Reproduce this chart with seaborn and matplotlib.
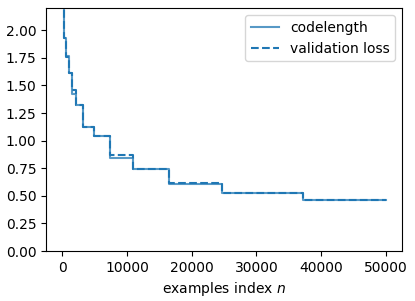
import numpy as np
import pandas as pd
import matplotlib
matplotlib.use('Agg')
import matplotlib.pyplot as plt
import seaborn as sns

# step boundaries (examples index n) and levels
n_index = [190, 286, 644, 966, 1449, 2173, 3259, 4889, 7333, 11000, 16500, 24750, 37125, 50000]
codelength = [2.9, 1.925, 1.77, 1.615, 1.42, 1.325, 1.12, 1.04, 0.843, 0.74, 0.61, 0.53, 0.46, 0.46]
val_loss = [2.9, 1.93, 1.76, 1.61, 1.455, 1.32, 1.12, 1.04, 0.873, 0.74, 0.615, 0.53, 0.46, 0.46]

df = pd.DataFrame({'n': n_index, 'codelength': codelength, 'validation loss': val_loss})

fig, ax = plt.subplots(figsize=(4.15, 3.01), dpi=100)
fig.subplots_adjust(left=0.111, right=0.969, top=0.973, bottom=0.166)

sns.lineplot(data=df, x='n', y='codelength', drawstyle='steps-post', color='C0',
             alpha=0.75, linewidth=1.5, label='codelength', ax=ax)
sns.lineplot(data=df, x='n', y='validation loss', drawstyle='steps-post', color='C0',
             linestyle='--', linewidth=1.5, label='validation loss', ax=ax)

ax.set_xlim(-2500, 52500)
ax.set_ylim(0, 2.2)
ax.set_yticks(np.arange(0, 2.01, 0.25))
ax.set_xlabel('examples index $n$')
ax.set_ylabel('')
ax.legend(loc='upper right')

fig.savefig('out.png', dpi=100)
